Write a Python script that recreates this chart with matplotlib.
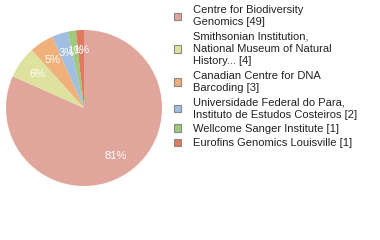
import matplotlib
matplotlib.use("Agg")
import matplotlib.pyplot as plt

names = [
    "Centre for Biodiversity\nGenomics",
    "Smithsonian Institution,\nNational Museum of Natural\nHistory...",
    "Canadian Centre for DNA\nBarcoding",
    "Universidade Federal do Para,\nInstituto de Estudos Costeiros",
    "Wellcome Sanger Institute",
    "Eurofins Genomics Louisville",
]
counts = [49, 4, 3, 2, 1, 1]
colors = ["#e0a69c", "#dde29e", "#f0b07a", "#a2bfe2", "#9fc97c", "#e07a5f"]

plt.rcParams["font.family"] = ["Liberation Sans", "DejaVu Sans"]

fig = plt.figure(figsize=(3.8, 2.4), dpi=100)
ax = fig.add_axes([6 / 380, 54 / 240, 156 / 380, 156 / 240])

wedges, _, autotexts = ax.pie(
    counts,
    colors=colors,
    startangle=90,
    counterclock=False,
    autopct=lambda p: "%d%%" % int(p + 1e-9),
    pctdistance=0.74,
    textprops=dict(color="white", fontsize=8),
)
ax.set_aspect("equal")
ax.set_xlim(-1, 1)
ax.set_ylim(-1, 1)

labels = ["%s [%d]" % (n, c) for n, c in zip(names, counts)]
leg = fig.legend(
    wedges,
    labels,
    loc="upper left",
    bbox_to_anchor=(174 / 380, 1 - 5 / 240),
    frameon=False,
    fontsize=8,
    handlelength=0.65,
    handleheight=0.65,
    handletextpad=1.05,
    labelspacing=0.38,
    borderaxespad=0,
    borderpad=0,
)
for h in leg.legend_handles:
    h.set_edgecolor("#888888")
    h.set_linewidth(0.8)
for t in leg.get_texts():
    t.set_color("#222222")
    t.set_linespacing(1.3)

fig.savefig("out.png", dpi=100)
